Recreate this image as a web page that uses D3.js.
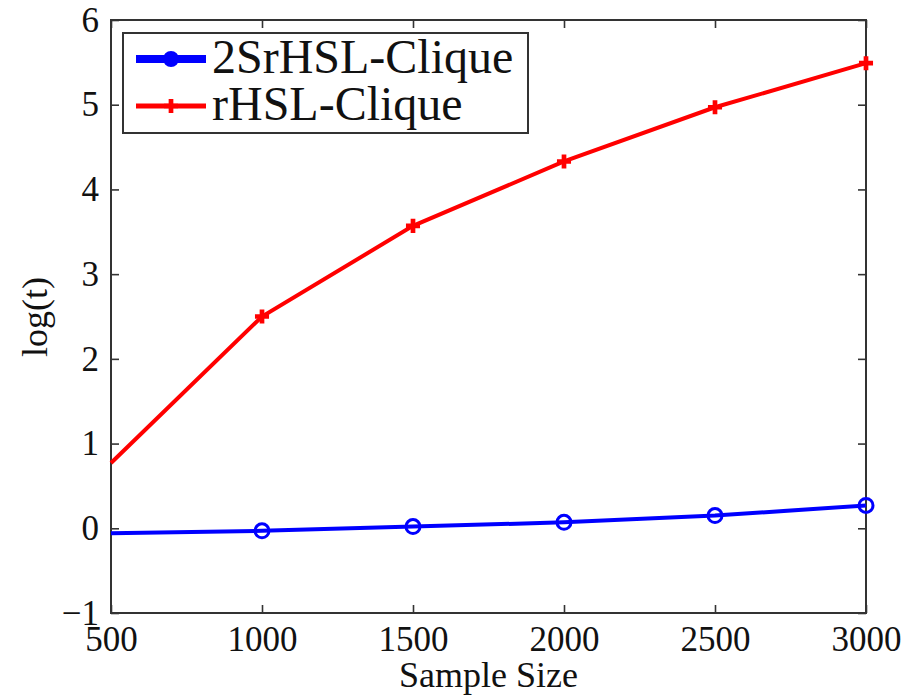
<html>
<meta charset="utf-8" />
<head>
<title>log(t) vs Sample Size</title>
<script src="https://cdn.jsdelivr.net/npm/d3@7"></script>
<style>
	body { margin: 0; background: #fff; }
</style>
</head>
<body>
<svg id="chart" width="914" height="695"></svg>
<script>
// data
const sampleSizes = [500, 1000, 1500, 2000, 2500, 3000];
const srhslValues = [-0.06, -0.03, 0.02, 0.07, 0.15, 0.27];
const rhslValues = [0.77, 2.50, 3.57, 4.33, 4.97, 5.49];
const xTicks = [500, 1000, 1500, 2000, 2500, 3000];
const yTicks = [-1, 0, 1, 2, 3, 4, 5, 6];
const seriesNames = ['2SrHSL-Clique', 'rHSL-Clique'];

const svg = d3.select('#chart');
const plotL = 111, plotR = 866, plotT = 20, plotB = 613;
const serif = '"Liberation Serif", "Times New Roman", serif';

let xScale = d3.scaleLinear().domain([500, 3000]).range([plotL, plotR]);
let yScale = d3.scaleLinear().domain([-1, 6]).range([plotB, plotT]);

const tickLen = 8;
const axisColor = '#333';

// axes: ticks point inward, labels outside
let xAxis = d3.axisBottom(xScale).tickValues(xTicks).tickFormat(d3.format('d'))
	.tickSizeInner(-tickLen).tickSizeOuter(0).tickPadding(13);
let yAxis = d3.axisLeft(yScale).tickValues(yTicks).tickFormat(d => d < 0 ? '\u2212' + Math.abs(d) : d)
	.tickSizeInner(-tickLen).tickSizeOuter(0).tickPadding(12);
let xTop = d3.axisTop(xScale).tickValues(xTicks).tickSizeInner(-tickLen).tickSizeOuter(0).tickFormat('');
let yRight = d3.axisRight(yScale).tickValues(yTicks).tickSizeInner(-tickLen).tickSizeOuter(0).tickFormat('');

function styleAxis(g) {
	g.select('.domain').remove();
	g.selectAll('.tick line').attr('stroke', axisColor).attr('stroke-width', 1.6);
	g.selectAll('.tick text')
		.style('font-family', serif)
		.style('font-size', '35px')
		.attr('fill', '#111');
}

svg.append('g').attr('transform', `translate(0,${plotB})`).call(xAxis).call(styleAxis);
svg.append('g').attr('transform', `translate(${plotL},0)`).call(yAxis).call(styleAxis);
svg.append('g').attr('transform', `translate(0,${plotT})`).call(xTop).call(styleAxis);
svg.append('g').attr('transform', `translate(${plotR},0)`).call(yRight).call(styleAxis);

// plot frame
svg.append('rect')
	.attr('x', plotL).attr('y', plotT)
	.attr('width', plotR - plotL).attr('height', plotB - plotT)
	.attr('fill', 'none').attr('stroke', axisColor).attr('stroke-width', 2);

// axis titles
svg.append('text')
	.attr('x', (plotL + plotR) / 2).attr('y', 687)
	.attr('text-anchor', 'middle')
	.style('font-family', serif).style('font-size', '36px').attr('fill', '#111')
	.text('Sample Size');

svg.append('text')
	.attr('transform', 'translate(47,317) rotate(-90)')
	.attr('text-anchor', 'middle')
	.style('font-family', serif).style('font-size', '36px').attr('fill', '#111')
	.text('log(t)');

// lines
const rows = sampleSizes.map((s, i) => ({ x: s, a: srhslValues[i], b: rhslValues[i] }));

let blueLine = d3.line().x(d => xScale(d.x)).y(d => yScale(d.a));
let redLine = d3.line().x(d => xScale(d.x)).y(d => yScale(d.b));

svg.append('path').attr('d', redLine(rows))
	.attr('fill', 'none').attr('stroke', '#ff0000').attr('stroke-width', 4);
svg.append('path').attr('d', blueLine(rows))
	.attr('fill', 'none').attr('stroke', '#0000ff').attr('stroke-width', 4);

// markers (the first point sits on the axis edge and has none)
const marked = rows.slice(1);

svg.selectAll('circle.blue')
	.data(marked).enter()
	.append('circle')
	.attr('class', 'blue')
	.attr('cx', d => xScale(d.x))
	.attr('cy', d => yScale(d.a))
	.attr('r', 7)
	.attr('fill', 'none')
	.attr('stroke', '#0000ff')
	.attr('stroke-width', 3);

const plus = d3.symbol().type(d3.symbolCross).size(110);
svg.selectAll('path.red')
	.data(marked).enter()
	.append('path')
	.attr('class', 'red')
	.attr('d', plus)
	.attr('transform', d => `translate(${xScale(d.x)},${yScale(d.b)})`)
	.attr('fill', '#ff0000');

// legend
const legend = svg.append('g');
legend.append('rect')
	.attr('x', 123).attr('y', 33).attr('width', 405).attr('height', 100)
	.attr('fill', '#fff').attr('stroke', axisColor).attr('stroke-width', 2);

const legendRows = [
	{ name: seriesNames[0], color: '#0000ff', width: 8, y: 59, mark: 'circle' },
	{ name: seriesNames[1], color: '#ff0000', width: 5, y: 106, mark: 'plus' }
];

legendRows.forEach(r => {
	legend.append('line')
		.attr('x1', 136).attr('x2', 206).attr('y1', r.y).attr('y2', r.y)
		.attr('stroke', r.color).attr('stroke-width', r.width);
	if (r.mark === 'circle') {
		legend.append('circle').attr('cx', 171).attr('cy', r.y).attr('r', 7)
			.attr('fill', r.color).attr('stroke', r.color).attr('stroke-width', 2);
	} else {
		legend.append('path').attr('d', plus())
			.attr('transform', `translate(171,${r.y})`).attr('fill', r.color);
	}
	legend.append('text')
		.attr('x', 212).attr('y', r.y + 14)
		.style('font-family', serif).style('font-size', '48px').attr('fill', '#111')
		.text(r.name);
});
</script>
</body>
</html>
